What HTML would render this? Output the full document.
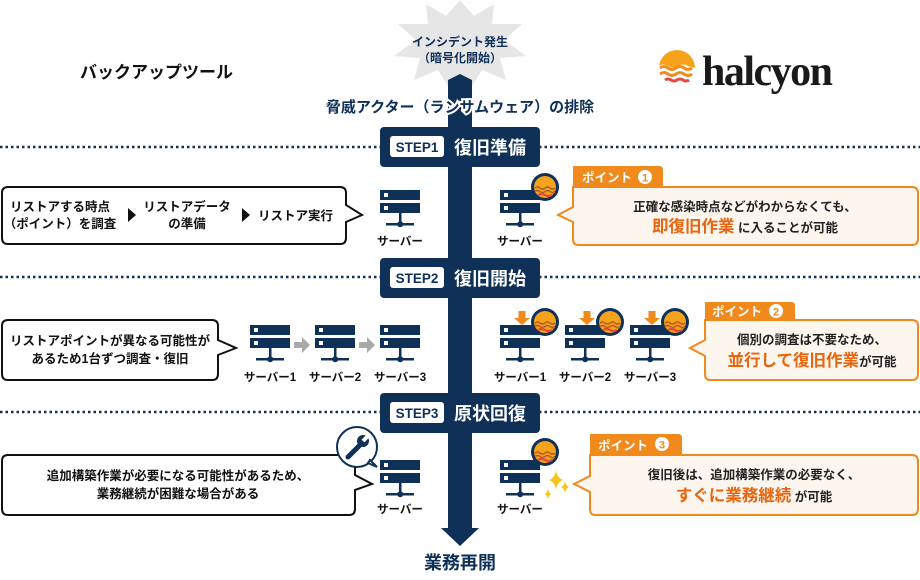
<!DOCTYPE html>
<html><head><meta charset="utf-8"><style>
html,body{margin:0;padding:0;background:#fff;}
svg{display:block;font-family:"Liberation Sans","Noto Sans CJK JP",sans-serif;}
</style></head><body>
<svg width="920" height="580" viewBox="0 0 920 580" xmlns="http://www.w3.org/2000/svg">
<defs>
<g id="srv">
<rect x="0" y="0" width="40" height="10" fill="#0f3057"/>
<rect x="4" y="3" width="4" height="4" fill="#fff"/>
<rect x="0" y="13" width="40" height="10" fill="#0f3057"/>
<rect x="4" y="16" width="4" height="4" fill="#fff"/>
<rect x="19" y="23" width="2.5" height="11" fill="#0f3057"/>
<rect x="6" y="33" width="28" height="2.5" fill="#0f3057"/>
<circle cx="20.2" cy="34.2" r="3" fill="#0f3057"/>
</g>
<g id="badge">
<circle cx="0" cy="0" r="14" fill="#0f3057"/>
<circle cx="0" cy="0" r="11" fill="#f7a21b"/>
<path d="M-10,1 q2.5,-2 5,0 t5,0 t5,0 t5,0 M-10,4.5 q2.5,-2 5,0 t5,0 t5,0 t5,0" stroke="#0f3057" stroke-width="1" fill="none"/>
<path d="M-10,1.5 q2.5,-2 5,0 t5,0 t5,0 t5,0 M-10,5 q2.5,-2 5,0 t5,0 t5,0 t5,0" stroke="#e06a1a" stroke-width="1.3" fill="none"/>
<path d="M-7,8 q3.5,-2 7,0 t7,0" stroke="#e2473c" stroke-width="2" fill="none"/>
</g>
<g id="down"><rect x="-3.5" y="0" width="7" height="7" fill="#f08a1c"/><path d="M-8,7 L8,7 L0,14 Z" fill="#f08a1c"/></g>
</defs>

<g stroke="#0f3057" stroke-width="2.5" stroke-dasharray="2.5 3">
<line x1="0" y1="147" x2="920" y2="147"/>
<line x1="0" y1="277" x2="920" y2="277"/>
<line x1="0" y1="412" x2="920" y2="412"/>
</g>

<!-- starburst -->
<path d="M460,0 L474,16 L494,4 L492,24 L522,24 L504,40 L526,56 L500,58 L506,80 L482,70 L472,86 L460,74 L448,86 L438,70 L414,80 L420,58 L394,56 L416,40 L398,24 L428,24 L426,4 L446,16 Z" fill="#e6e6e6"/>
<path d="M448,80 L460,74 L472,80 L472,528 L479,528 L460,546 L441,528 L448,528 Z" fill="#0f3057"/>
<text x="460" y="46" font-size="12" font-weight="bold" fill="#0f3057" text-anchor="middle">インシデント発生</text>
<text x="460" y="62" font-size="12" font-weight="bold" fill="#0f3057" text-anchor="middle">（暗号化開始）</text>

<text x="80" y="78" font-size="17" font-weight="bold" fill="#111">バックアップツール</text>
<text x="460" y="112" font-size="15" font-weight="bold" fill="#0f3057" text-anchor="middle" stroke="#fff" stroke-width="4" paint-order="stroke">脅威アクター（ランサムウェア）の排除</text>

<!-- logo -->
<circle cx="677" cy="68" r="18" fill="#f7a21b"/>
<path d="M658,66 q5,-3 10,0 t10,0 t10,0 t10,0 L698,90 L658,90 Z" fill="#fff"/>
<path d="M660,68 q4,-3 8,0 t8,0 t8,0 t8,0 M660,74 q4,-3 8,0 t8,0 t8,0 t8,0" stroke="#f58a1f" stroke-width="3" fill="none"/>
<path d="M665,80 q3,-2 6,0 t6,0 t6,0 t6,0" stroke="#e8473f" stroke-width="3" fill="none"/>
<text x="702" y="85" font-family="Liberation Serif,serif" font-size="42" font-weight="bold" fill="#1a1a1a" letter-spacing="-1.5">halcyon</text>

<g>
<rect x="380" y="127" width="160" height="40" rx="4" fill="#0f3057"/>
<rect x="390" y="136" width="54" height="21" rx="3" fill="#fff"/>
<text x="417" y="152" font-size="13.5" font-weight="bold" fill="#0f3057" text-anchor="middle">STEP1</text>
<text x="454" y="154" font-size="18" font-weight="bold" fill="#fff">復旧準備</text>
<rect x="380" y="258" width="160" height="40" rx="4" fill="#0f3057"/>
<rect x="390" y="267" width="54" height="21" rx="3" fill="#fff"/>
<text x="417" y="283" font-size="13.5" font-weight="bold" fill="#0f3057" text-anchor="middle">STEP2</text>
<text x="454" y="285" font-size="18" font-weight="bold" fill="#fff">復旧開始</text>
<rect x="380" y="393" width="160" height="40" rx="4" fill="#0f3057"/>
<rect x="390" y="402" width="54" height="21" rx="3" fill="#fff"/>
<text x="417" y="418" font-size="13.5" font-weight="bold" fill="#0f3057" text-anchor="middle">STEP3</text>
<text x="454" y="420" font-size="18" font-weight="bold" fill="#fff">原状回復</text>
</g>

<path d="M8,187 L340,187 Q346,187 346,193 L346,205 L362,215 L346,222 L346,238 Q346,244 340,244 L8,244 Q2,244 2,238 L2,193 Q2,187 8,187 Z" fill="#fff" stroke="#111" stroke-width="2"/>
<g font-size="12.5" font-weight="bold" fill="#111">
<text x="60" y="211" text-anchor="middle">リストアする時点</text>
<text x="60" y="228" text-anchor="middle">（ポイント）を調査</text>
<path d="M128,208 L136,215 L128,222 Z" fill="#111"/>
<text x="187" y="211" text-anchor="middle">リストアデータ</text>
<text x="187" y="228" text-anchor="middle">の準備</text>
<path d="M242,208 L250,215 L242,222 Z" fill="#111"/>
<text x="258" y="220">リストア実行</text>
</g>
<use href="#srv" x="380" y="190"/>
<text x="400" y="245" font-size="11.5" font-weight="bold" fill="#111" text-anchor="middle">サーバー</text>

<use href="#srv" x="500" y="190"/>
<use href="#badge" x="545" y="187"/>
<text x="520" y="245" font-size="11.5" font-weight="bold" fill="#111" text-anchor="middle">サーバー</text>
<path d="M573,166 L659,166 Q663,166 663,170 L663,187 L573,187 Z" fill="#f08a1c"/>
<text x="582" y="182" font-size="12.5" font-weight="bold" fill="#fff">ポイント</text>
<circle cx="645" cy="177" r="7" fill="#fff"/><text x="645" y="181.5" font-size="11" font-weight="bold" fill="#f08a1c" text-anchor="middle">1</text>
<path d="M573,187 L912,187 Q918,187 918,193 L918,239 Q918,245 912,245 L578,245 Q573,245 573,239 L573,222 L558,215 L573,207 Z" fill="#fdf6ef" stroke="#f08a1c" stroke-width="2"/>
<text x="745" y="211" font-size="12.5" font-weight="bold" fill="#222" text-anchor="middle">正確な感染時点などがわからなくても、</text>
<text x="745" y="232" font-size="12.5" font-weight="bold" fill="#222" text-anchor="middle"><tspan font-size="16.5" fill="#e8650f">即復旧作業</tspan> に入ることが可能</text>

<path d="M8,320 L212,320 Q218,320 218,326 L218,340 L236,348 L218,355 L218,374 Q218,380 212,380 L8,380 Q2,380 2,374 L2,326 Q2,320 8,320 Z" fill="#fff" stroke="#111" stroke-width="2"/>
<text x="110" y="345" font-size="12.5" font-weight="bold" fill="#111" text-anchor="middle">リストアポイントが異なる可能性が</text>
<text x="110" y="363" font-size="12.5" font-weight="bold" fill="#111" text-anchor="middle">あるため1台ずつ調査・復旧</text>
<use href="#srv" x="250" y="325"/>
<use href="#srv" x="315" y="325"/>
<use href="#srv" x="380" y="325"/>
<path d="M294,342 L302,342 L302,337 L310,345 L302,353 L302,348 L294,348 Z" fill="#aaa"/>
<path d="M359,342 L367,342 L367,337 L375,345 L367,353 L367,348 L359,348 Z" fill="#aaa"/>
<g font-size="11.5" font-weight="bold" fill="#111" text-anchor="middle">
<text x="270" y="381">サーバー1</text><text x="335" y="381">サーバー2</text><text x="400" y="381">サーバー3</text>
<text x="520" y="381">サーバー1</text><text x="585" y="381">サーバー2</text><text x="650" y="381">サーバー3</text>
</g>
<use href="#srv" x="500" y="325"/><use href="#badge" x="545" y="322"/><use href="#down" x="522" y="311"/>
<use href="#srv" x="565" y="325"/><use href="#badge" x="610" y="322"/><use href="#down" x="587" y="311"/>
<use href="#srv" x="630" y="325"/><use href="#badge" x="675" y="322"/><use href="#down" x="652" y="311"/>
<path d="M705,302 L791,302 Q795,302 795,306 L795,320 L705,320 Z" fill="#f08a1c"/>
<text x="712" y="316" font-size="12.5" font-weight="bold" fill="#fff">ポイント</text>
<circle cx="776" cy="311" r="7" fill="#fff"/><text x="776" y="315.5" font-size="11" font-weight="bold" fill="#f08a1c" text-anchor="middle">2</text>
<path d="M705,320 L912,320 Q918,320 918,326 L918,374 Q918,380 912,380 L710,380 Q705,380 705,374 L705,356 L690,348 L705,340 Z" fill="#fdf6ef" stroke="#f08a1c" stroke-width="2"/>
<text x="812" y="344" font-size="12.5" font-weight="bold" fill="#222" text-anchor="middle">個別の調査は不要なため、</text>
<text x="812" y="366" font-size="12.5" font-weight="bold" fill="#222" text-anchor="middle"><tspan font-size="16.5" fill="#e8650f">並行して復旧作業</tspan>が可能</text>

<path d="M8,455 L349,455 Q355,455 355,461 L355,475 L372,484 L355,490 L355,509 Q355,515 349,515 L8,515 Q2,515 2,509 L2,461 Q2,455 8,455 Z" fill="#fff" stroke="#111" stroke-width="2"/>
<text x="178" y="480" font-size="12.5" font-weight="bold" fill="#111" text-anchor="middle">追加構築作業が必要になる可能性があるため、</text>
<text x="178" y="498" font-size="12.5" font-weight="bold" fill="#111" text-anchor="middle">業務継続が困難な場合がある</text>
<circle cx="357" cy="447" r="20" fill="#fff" stroke="#0f3057" stroke-width="2"/>
<path d="M370,460 L377,467 L368,463 Z" fill="#fff" stroke="#0f3057" stroke-width="2"/>
<path d="M348,457 L360,445" stroke="#0f3057" stroke-width="5" stroke-linecap="round"/>
<circle cx="363" cy="441" r="6" fill="#0f3057"/>
<path d="M363,441 L370,434" stroke="#fff" stroke-width="4"/>
<use href="#srv" x="380" y="460"/>
<text x="400" y="513" font-size="11.5" font-weight="bold" fill="#111" text-anchor="middle">サーバー</text>
<use href="#srv" x="500" y="460"/><use href="#badge" x="545" y="452"/>
<path d="M556,470 Q557,478 563,480 Q557,482 556,490 Q555,482 549,480 Q555,478 556,470 Z" fill="#f5c518"/>
<path d="M565,481 Q566,486 569,487 Q566,488 565,493 Q564,488 561,487 Q564,486 565,481 Z" fill="#f5c518"/>
<path d="M548,489 Q549,493 551,494 Q549,495 548,499 Q547,495 545,494 Q547,493 548,489 Z" fill="#f5c518"/>
<text x="520" y="513" font-size="11.5" font-weight="bold" fill="#111" text-anchor="middle">サーバー</text>
<path d="M590,434 L678,434 Q682,434 682,438 L682,455 L590,455 Z" fill="#f08a1c"/>
<text x="598" y="450" font-size="12.5" font-weight="bold" fill="#fff">ポイント</text>
<circle cx="662" cy="444" r="7" fill="#fff"/><text x="662" y="448.5" font-size="11" font-weight="bold" fill="#f08a1c" text-anchor="middle">3</text>
<path d="M590,455 L912,455 Q918,455 918,461 L918,509 Q918,515 912,515 L595,515 Q590,515 590,509 L590,492 L574,484 L590,476 Z" fill="#fdf6ef" stroke="#f08a1c" stroke-width="2"/>
<text x="754" y="479" font-size="12.5" font-weight="bold" fill="#222" text-anchor="middle">復旧後は、追加構築作業の必要なく、</text>
<text x="754" y="501" font-size="12.5" font-weight="bold" fill="#222" text-anchor="middle"><tspan font-size="16.5" fill="#e8650f">すぐに業務継続</tspan> が可能</text>

<text x="460" y="569" font-size="18" font-weight="bold" fill="#0f3057" text-anchor="middle">業務再開</text>
</svg>
</body></html>
